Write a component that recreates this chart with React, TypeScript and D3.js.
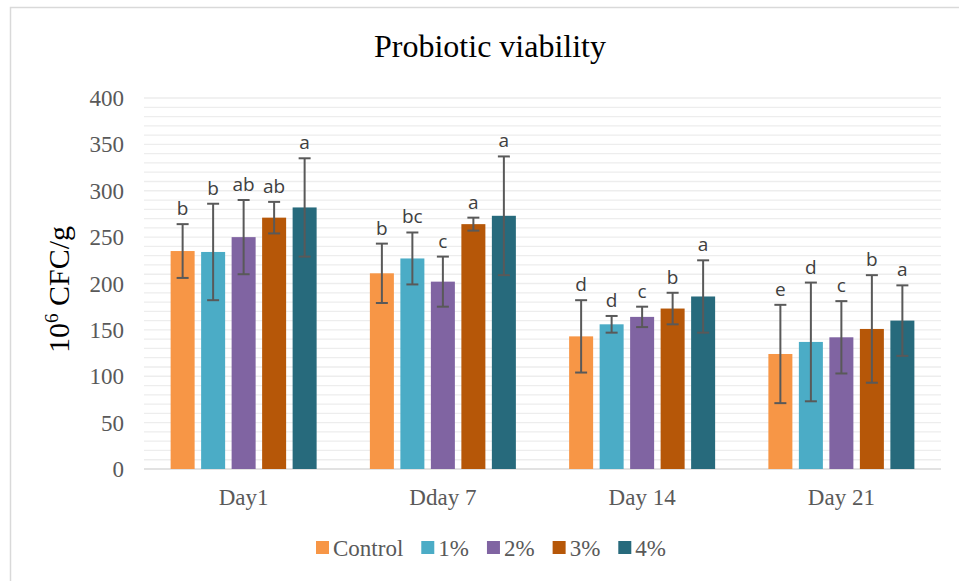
import React, { useEffect, useRef } from "react";
import * as d3 from "d3";

// ---- data ----
const days = ["Day1", "Dday 7", "Day 14", "Day 21"];
const series = ["Control", "1%", "2%", "3%", "4%"];
const colors = ["#F79646", "#4BACC6", "#8064A2", "#B65708", "#276A7C"];

// mean values per series (one entry per day)
const controlVals = [235, 211, 143, 124];
const onePctVals = [234, 227, 156, 137];
const twoPctVals = [250, 202, 164, 142];
const threePctVals = [271, 264, 173, 151];
const fourPctVals = [282, 273, 186, 160];

// +/- error per series
const controlErr = [29, 32, 39, 53];
const onePctErr = [52, 28, 9, 64];
const twoPctErr = [40, 27, 11, 39];
const threePctErr = [17, 7, 17, 58];
const fourPctErr = [53, 64, 39, 38];

// significance letters
const controlSig = ["b", "b", "d", "e"];
const onePctSig = ["b", "bc", "d", "d"];
const twoPctSig = ["ab", "c", "c", "c"];
const threePctSig = ["ab", "a", "b", "b"];
const fourPctSig = ["a", "a", "a", "a"];

const yTicks = [0, 50, 100, 150, 200, 250, 300, 350, 400];

const values = [controlVals, onePctVals, twoPctVals, threePctVals, fourPctVals];
const errors = [controlErr, onePctErr, twoPctErr, threePctErr, fourPctErr];
const sigs = [controlSig, onePctSig, twoPctSig, threePctSig, fourPctSig];

const W = 959;
const H = 581;
const serif = "'Liberation Serif', 'Times New Roman', serif";

export default function App() {
  const svgRef = useRef<SVGSVGElement | null>(null);

  useEffect(() => {
    const svg = d3.select(svgRef.current);
    svg.selectAll("*").remove();

    const plot = { left: 144, right: 941, top: 98, bottom: 469 };

    // chart border (Excel chart area)
    svg.append("rect")
      .attr("x", 10.5).attr("y", 7.5)
      .attr("width", 970).attr("height", 590)
      .attr("fill", "#fff").attr("stroke", "#d9d9d9").attr("stroke-width", 1.5);

    const y = d3.scaleLinear().domain([0, 400]).range([plot.bottom, plot.top]);
    const x0 = d3.scaleBand<string>().domain(days).range([plot.left, plot.right]).padding(0);
    const inner = (x0.bandwidth() - 146) / 2;
    const x1 = d3.scaleBand<string>().domain(series)
      .range([inner, inner + 146]).paddingInner(0.213).paddingOuter(0);

    // minor gridlines every 10
    const grid = d3.range(10, 401, 10);
    svg.append("g").selectAll("line").data(grid).join("line")
      .attr("x1", plot.left).attr("x2", plot.right)
      .attr("y1", d => y(d)).attr("y2", d => y(d))
      .attr("stroke", "#ededed").attr("stroke-width", 1.3);

    // baseline
    svg.append("line")
      .attr("x1", plot.left).attr("x2", plot.right)
      .attr("y1", y(0)).attr("y2", y(0))
      .attr("stroke", "#d9d9d9").attr("stroke-width", 1.5);

    // y tick labels
    svg.append("g").selectAll("text").data(yTicks).join("text")
      .attr("x", 124).attr("y", d => y(d)).attr("dy", "0.35em")
      .attr("text-anchor", "end")
      .attr("font-family", serif).attr("font-size", 23).attr("fill", "#595959")
      .text(d => d);

    // x category labels
    svg.append("g").selectAll("text").data(days).join("text")
      .attr("x", d => (x0(d) as number) + x0.bandwidth() / 2).attr("y", 505)
      .attr("text-anchor", "middle")
      .attr("font-family", serif).attr("font-size", 23).attr("fill", "#595959")
      .text(d => d);

    // bars, error bars, letters
    series.forEach((s, si) => {
      const g = svg.append("g");
      const rows = days.map((d, di) => ({
        d, v: values[si][di], e: errors[si][di], sig: sigs[si][di],
        x: (x0(d) as number) + (x1(s) as number),
      }));
      const bw = x1.bandwidth();

      g.selectAll("rect").data(rows).join("rect")
        .attr("x", r => r.x).attr("width", bw)
        .attr("y", r => y(r.v)).attr("height", r => y(0) - y(r.v))
        .attr("fill", colors[si]);

      const eb = g.selectAll("g.err").data(rows).join("g").attr("class", "err")
        .attr("stroke", "#595959").attr("stroke-width", 2);
      eb.append("line")
        .attr("x1", r => r.x + bw / 2).attr("x2", r => r.x + bw / 2)
        .attr("y1", r => y(r.v + r.e)).attr("y2", r => y(r.v - r.e));
      eb.append("line")
        .attr("x1", r => r.x + bw / 2 - 6).attr("x2", r => r.x + bw / 2 + 6)
        .attr("y1", r => y(r.v + r.e)).attr("y2", r => y(r.v + r.e));
      eb.append("line")
        .attr("x1", r => r.x + bw / 2 - 6).attr("x2", r => r.x + bw / 2 + 6)
        .attr("y1", r => y(r.v - r.e)).attr("y2", r => y(r.v - r.e));

      g.selectAll("text").data(rows).join("text")
        .attr("x", r => r.x + bw / 2).attr("y", r => y(r.v + r.e) - 9)
        .attr("text-anchor", "middle")
        .attr("font-family", "'Open Sans', sans-serif").attr("font-size", 19)
        .attr("fill", "#404040")
        .text(r => r.sig);
    });

    // title
    svg.append("text")
      .attr("x", 490).attr("y", 57).attr("text-anchor", "middle")
      .attr("font-family", serif).attr("font-size", 32).attr("fill", "#000")
      .text("Probiotic viability");

    // y axis title with superscript
    const yt = svg.append("text")
      .attr("transform", `translate(69,${(plot.top + plot.bottom) / 2 + 6}) rotate(-90)`)
      .attr("text-anchor", "middle")
      .attr("font-family", serif).attr("font-size", 30).attr("fill", "#000");
    yt.append("tspan").text("10");
    yt.append("tspan").attr("font-size", 19).attr("dy", -11).text("6");
    yt.append("tspan").attr("dy", 11).text(" CFC/g");

    // legend
    const lg = svg.append("g");
    let lx = 316;
    series.forEach((s, si) => {
      lg.append("rect").attr("x", lx).attr("y", 541).attr("width", 13).attr("height", 13)
        .attr("fill", colors[si]);
      const t = lg.append("text").attr("x", lx + 17).attr("y", 556)
        .attr("font-family", serif).attr("font-size", 23).attr("fill", "#595959")
        .text(s);
      const tw = (t.node() as SVGTextElement).getComputedTextLength();
      lx += 17 + tw + 18;
    });
  }, []);

  return (
    <svg
      ref={svgRef}
      width={W}
      height={H}
      style={{ position: "absolute", left: 0, top: 0, background: "#fff" }}
    />
  );
}
